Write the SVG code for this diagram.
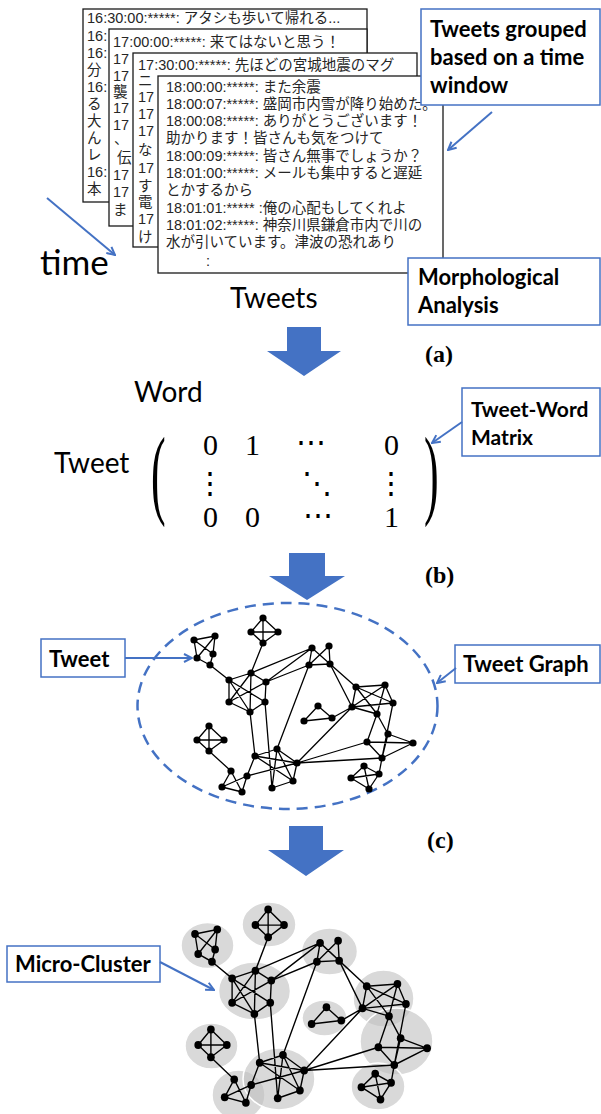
<svg xmlns="http://www.w3.org/2000/svg" xmlns:xlink="http://www.w3.org/1999/xlink" width="601" height="1114" viewBox="0 0 601 1114">
<style>
.box{fill:#fff;stroke:#1a1a1a;stroke-width:1.3}
.tw{font-family:"Liberation Sans","Noto Sans CJK JP",sans-serif;font-size:14.5px;fill:#262626}
.lbl{fill:#fff;stroke:#4472C4;stroke-width:1.5}
.lt{font-family:Lato,"Open Sans",sans-serif;font-weight:bold;font-size:22px;fill:#000}
.big{font-family:Lato,"Open Sans",sans-serif;font-size:28px;fill:#000}
.ser{font-family:"Liberation Serif","DejaVu Serif",serif;font-size:30px;fill:#000}
.cap{font-family:"Liberation Serif",serif;font-weight:bold;font-size:24px;fill:#000}
.blu{stroke:#4472C4;stroke-width:2;fill:none}
.blk{fill:#4472C4}
.e{stroke:#000;stroke-width:1.3;fill:none}
.n{fill:#000}
.mc{fill:#bfbfbf;fill-opacity:.6;stroke:#fff;stroke-width:1.5}
</style>
<defs>
<marker id="ah" viewBox="0 0 10 10" refX="9" refY="5" markerWidth="10" markerHeight="10" markerUnits="userSpaceOnUse" orient="auto"><path d="M1,1 L9,5 L1,9" fill="none" stroke="#4472C4" stroke-width="2"/></marker>
</defs>

<!-- tweet boxes -->
<g id="tweets-1630">
<rect class="box" x="83" y="9" width="284" height="193"/>
<text class="tw" x="87" y="23">16:30:00:*****: アタシも歩いて帰れる...</text>
<text class="tw" x="87" y="41">16:</text><text class="tw" x="87" y="58">16:</text>
<text class="tw" x="87" y="75">分</text><text class="tw" x="87" y="92">16:</text>
<text class="tw" x="87" y="109">る</text><text class="tw" x="87" y="126">大</text>
<text class="tw" x="87" y="143">ん</text><text class="tw" x="87" y="160">レ</text>
<text class="tw" x="87" y="177">16:</text><text class="tw" x="87" y="194">本</text>
</g>
<g id="tweets-1700">
<rect class="box" x="109" y="29" width="258" height="197"/>
<text class="tw" x="113" y="47">17:00:00:*****: 来てはないと思う！</text>
<text class="tw" x="113" y="64">17</text><text class="tw" x="113" y="81">17</text>
<text class="tw" x="113" y="97">襲</text><text class="tw" x="113" y="113">17</text>
<text class="tw" x="113" y="130">17</text><text class="tw" x="114" y="144">、</text>
<text class="tw" x="117" y="163">伝</text><text class="tw" x="113" y="180">17</text>
<text class="tw" x="113" y="197">17</text><text class="tw" x="113" y="215">ま</text>
</g>
<g id="tweets-1730">
<rect class="box" x="133" y="53" width="284" height="194"/>
<text class="tw" x="138" y="70">17:30:00:*****: 先ほどの宮城地震のマグ</text>
<text class="tw" x="138" y="86">ニ</text><text class="tw" x="138" y="102">17</text>
<text class="tw" x="138" y="119">17</text><text class="tw" x="138" y="136">17</text>
<text class="tw" x="138" y="155">な</text><text class="tw" x="138" y="173">17</text>
<text class="tw" x="138" y="191">す</text><text class="tw" x="138" y="207">電</text>
<text class="tw" x="138" y="224">17</text><text class="tw" x="138" y="242">け</text>
</g>
<g id="tweets-1800">
<rect class="box" x="158" y="76" width="285" height="197"/>
<text class="tw" x="166" y="92">18:00:00:*****: また余震</text>
<text class="tw" x="166" y="109">18:00:07:*****: 盛岡市内雪が降り始めた。</text>
<text class="tw" x="166" y="126">18:00:08:*****: ありがとうございます！</text>
<text class="tw" x="166" y="143">助かります！皆さんも気をつけて</text>
<text class="tw" x="166" y="161">18:00:09:*****: 皆さん無事でしょうか？</text>
<text class="tw" x="166" y="178">18:01:00:*****: メールも集中すると遅延</text>
<text class="tw" x="166" y="195">とかするから</text>
<text class="tw" x="166" y="213">18:01:01:***** :俺の心配もしてくれよ</text>
<text class="tw" x="166" y="230">18:01:02:*****: 神奈川県鎌倉市内で川の</text>
<text class="tw" x="166" y="247">水が引いています。津波の恐れあり</text>
<text class="tw" x="206" y="266">:</text>
</g>

<!-- free texts -->
<text class="big" x="40" y="275" style="font-size:35px">time</text>
<text class="big" x="230" y="308">Tweets</text>
<text class="big" x="134" y="402">Word</text>
<text class="big" x="54" y="473">Tweet</text>
<text class="cap" x="425" y="362">(a)</text>
<text class="cap" x="425" y="583">(b)</text>
<text class="cap" x="427" y="848">(c)</text>

<!-- matrix -->
<g id="matrix">
<text class="ser" transform="translate(151,0) scale(1,2.25)" y="224.7" style="font-size:44px">(</text>
<text class="ser" transform="translate(424,0) scale(1,2.25)" y="224.7" style="font-size:44px">)</text>
<text class="ser" x="203" y="455">0</text><text class="ser" x="245" y="455">1</text>
<text class="ser" x="311" y="452" text-anchor="middle">⋯</text><text class="ser" x="384" y="455">0</text>
<text class="ser" x="210" y="493" text-anchor="middle">⋮</text><text class="ser" x="317" y="493" text-anchor="middle">⋱</text>
<text class="ser" x="391" y="493" text-anchor="middle">⋮</text>
<text class="ser" x="203" y="527">0</text><text class="ser" x="245" y="527">0</text>
<text class="ser" x="318" y="525" text-anchor="middle">⋯</text><text class="ser" x="384" y="527">1</text>
</g>

<!-- block arrows -->
<g id="step-arrows">
<polygon class="blk" points="287,327 321,327 321,351 341,351 304,376 267,351 287,351"/>
<polygon class="blk" points="289,553 325,553 325,576 345,576 307,600 269,576 289,576"/>
<polygon class="blk" points="289,826 323,826 323,850 344,850 306,876 268,850 289,850"/>
</g>

<!-- tweet graph -->
<ellipse cx="287.5" cy="706" rx="150" ry="103" fill="none" stroke="#4472C4" stroke-width="2.5" stroke-dasharray="11 7"/>
<g id="graph-c">
<path class="e" d="M194,640L215,636M194,640L197,658M194,640L213,654M215,636L197,658M215,636L213,654M197,658L210,665M213,654L210,665M210,665L229,680
M263,618L251,632M263,618L278,632M251,632L278,632M263,618L263,643M251,632L263,643M278,632L263,643M263,643L251,673
M229,680L251,673M251,673L266,682M229,680L229,702M229,680L265,702M229,680L250,712M251,673L229,702M251,673L250,712M266,682L229,702M266,682L265,702M229,702L250,712M265,702L250,712
M251,673L312,648M266,682L312,648M266,682L309,665M250,712L255,756M265,702L272,788
M312,648L309,665M312,648L330,664M329,646L309,665M329,646L330,664M309,665L330,664M309,665L277,749M330,664L356,687M330,664L352,707
M356,687L385,685M356,687L393,703M356,687L352,707M356,687L377,714M385,685L352,707M385,685L393,703M385,685L377,714M352,707L393,703M352,707L377,714M393,703L382,758M377,714L367,742M377,714L388,734
M318,706L304,721M318,706L332,718M304,721L332,718M332,718L352,707
M209,726L197,740M209,726L224,740M197,740L224,740M209,726L209,751M197,740L209,751M224,740L209,751M209,751L231,771
M231,771L222,787M231,771L242,792M222,787L242,792M222,787L247,776M242,792L247,776
M255,756L277,749M255,756L297,763M255,756L247,776M255,756L293,781M277,749L297,763M277,749L272,788M277,749L293,781M247,776L297,763M297,763L293,781M272,788L293,781
M297,763L352,707M297,763L367,742M297,763L382,758
M367,742L413,743M388,734L413,743M367,742L382,758M388,734L382,758M413,743L382,758
M364,766L351,778M364,766L369,789M351,778L379,774M379,774L369,789M351,778L369,789M364,766L379,774M379,774L382,758"/>
<g class="n">
<circle cx="194" cy="640" r="3.6"/><circle cx="215" cy="636" r="3.6"/><circle cx="213" cy="654" r="3.6"/><circle cx="197" cy="658" r="3.6"/><circle cx="210" cy="665" r="3.6"/>
<circle cx="263" cy="618" r="3.6"/><circle cx="251" cy="632" r="3.6"/><circle cx="278" cy="632" r="3.6"/><circle cx="263" cy="643" r="3.6"/>
<circle cx="229" cy="680" r="3.6"/><circle cx="251" cy="673" r="3.6"/><circle cx="266" cy="682" r="3.6"/><circle cx="229" cy="702" r="3.6"/><circle cx="265" cy="702" r="3.6"/><circle cx="250" cy="712" r="3.6"/>
<circle cx="312" cy="648" r="3.6"/><circle cx="329" cy="646" r="3.6"/><circle cx="309" cy="665" r="3.6"/><circle cx="330" cy="664" r="3.6"/>
<circle cx="356" cy="687" r="3.6"/><circle cx="385" cy="685" r="3.6"/><circle cx="393" cy="703" r="3.6"/><circle cx="352" cy="707" r="3.6"/><circle cx="377" cy="714" r="3.6"/>
<circle cx="318" cy="706" r="3.6"/><circle cx="304" cy="721" r="3.6"/><circle cx="332" cy="718" r="3.6"/>
<circle cx="209" cy="726" r="3.6"/><circle cx="197" cy="740" r="3.6"/><circle cx="224" cy="740" r="3.6"/><circle cx="209" cy="751" r="3.6"/>
<circle cx="231" cy="771" r="3.6"/><circle cx="222" cy="787" r="3.6"/><circle cx="242" cy="792" r="3.6"/>
<circle cx="255" cy="756" r="3.6"/><circle cx="277" cy="749" r="3.6"/><circle cx="297" cy="763" r="3.6"/><circle cx="247" cy="776" r="3.6"/><circle cx="272" cy="788" r="3.6"/><circle cx="293" cy="781" r="3.6"/>
<circle cx="388" cy="734" r="3.6"/><circle cx="367" cy="742" r="3.6"/><circle cx="413" cy="743" r="3.6"/><circle cx="382" cy="758" r="3.6"/>
<circle cx="364" cy="766" r="3.6"/><circle cx="379" cy="774" r="3.6"/><circle cx="351" cy="778" r="3.6"/><circle cx="369" cy="789" r="3.6"/>
</g>
</g>

<!-- micro clusters -->
<g id="micro-clusters">
<ellipse class="mc" cx="207.5" cy="945.5" rx="26.5" ry="23"/>
<ellipse class="mc" cx="269" cy="924.5" rx="27" ry="22.5"/>
<ellipse class="mc" cx="254.5" cy="991" rx="36" ry="29"/>
<ellipse class="mc" cx="329.5" cy="951.5" rx="28" ry="23.5"/>
<ellipse class="mc" cx="383.5" cy="998.5" rx="30.5" ry="28.5"/>
<ellipse class="mc" cx="324.5" cy="1018" rx="22.5" ry="18"/>
<ellipse class="mc" cx="396.5" cy="1041.5" rx="36.5" ry="33.5"/>
<ellipse class="mc" cx="211.5" cy="1046" rx="26.5" ry="23"/>
<ellipse class="mc" cx="238.5" cy="1095" rx="26.5" ry="25"/>
<ellipse class="mc" cx="279" cy="1079" rx="36" ry="31"/>
<ellipse class="mc" cx="378" cy="1086.5" rx="27" ry="23.5"/>
</g>
<use id="graph-d" xlink:href="#graph-c" href="#graph-c" transform="matrix(1.06 0 0 1.11 -10.64 223.6)"/>

<!-- callout labels -->
<g id="label-grouped">
<rect class="lbl" x="421" y="9" width="179" height="96"/>
<text class="lt" x="430" y="37">Tweets grouped</text>
<text class="lt" x="430" y="65">based on a time</text>
<text class="lt" x="430" y="93">window</text>
</g>
<g id="label-morph">
<rect class="lbl" x="408" y="258" width="192" height="67"/>
<text class="lt" x="418" y="285">Morphological</text>
<text class="lt" x="418" y="313">Analysis</text>
</g>
<g id="label-matrix">
<rect class="lbl" x="462" y="388" width="138" height="68"/>
<text class="lt" x="471" y="417" style="font-size:21px">Tweet-Word</text>
<text class="lt" x="471" y="445" style="font-size:21px">Matrix</text>
</g>
<g id="label-tweet">
<rect class="lbl" x="41" y="639" width="84" height="38"/>
<text class="lt" x="49" y="667">Tweet</text>
</g>
<g id="label-graph">
<rect class="lbl" x="455" y="645" width="145" height="38"/>
<text class="lt" x="463" y="672">Tweet Graph</text>
</g>
<g id="label-micro">
<rect class="lbl" x="7" y="946" width="153" height="36"/>
<text class="lt" x="15" y="972">Micro-Cluster</text>
</g>

<!-- connectors -->
<g id="connectors">
<line class="blu" x1="47" y1="198" x2="115" y2="255" marker-end="url(#ah)"/>
<line class="blu" x1="492" y1="112" x2="448" y2="150" marker-end="url(#ah)"/>
<line class="blu" x1="462" y1="422" x2="432" y2="443" marker-end="url(#ah)"/>
<line class="blu" x1="125" y1="658" x2="192" y2="658" marker-end="url(#ah)"/>
<line class="blu" x1="456" y1="668" x2="437" y2="683" marker-end="url(#ah)"/>
<line class="blu" x1="160" y1="962" x2="214" y2="990" marker-end="url(#ah)"/>
</g>
</svg>
